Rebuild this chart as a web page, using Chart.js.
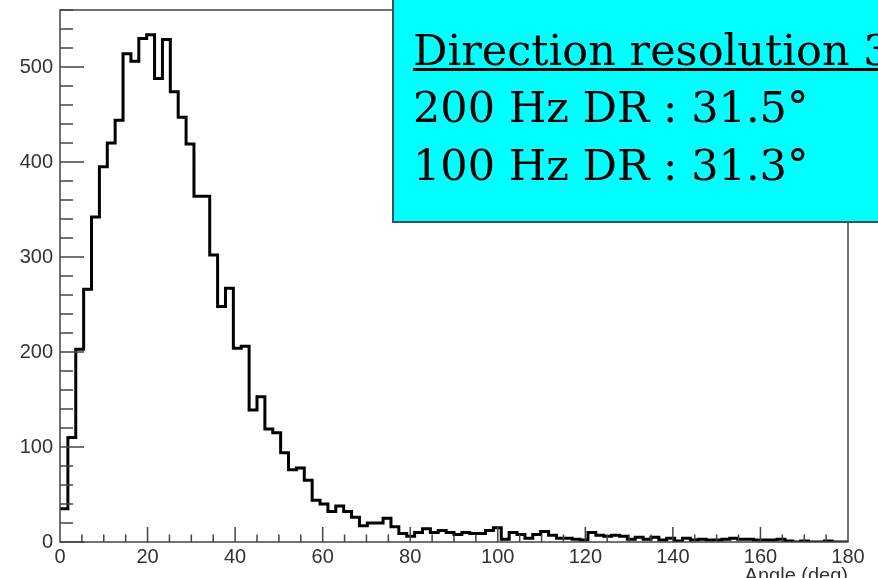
<!DOCTYPE html>
<html lang="en">
<head>
<meta charset="UTF-8">
<title>Direction resolution</title>
<script src="https://cdn.jsdelivr.net/npm/chart.js@4.4.2/dist/chart.umd.min.js"></script>
<style>
    html, body { margin: 0; padding: 0; background: #fff; overflow: hidden; }
    #wrap { width: 878px; height: 578px; overflow: hidden; }
</style>
</head>
<body>
<div id="wrap"><canvas id="histChart" width="878" height="600"></canvas></div>
<script>
// --- Data: angle histogram, 100 bins between 0 and 180 deg ---
const xMin = 0;
const xMax = 180;
const binCounts = [
    35, 110, 203, 266, 342, 395, 420, 444, 514, 506,
    530, 534, 488, 529, 474, 447, 419, 364, 364, 302,
    248, 267, 204, 206, 139, 153, 119, 115, 94, 76,
    78, 65, 44, 40, 32, 38, 32, 26, 17, 20,
    20, 25, 16, 9, 6, 10, 14, 10, 12, 10,
    8, 10, 9, 9, 12, 15, 3, 10, 8, 4,
    8, 11, 7, 4, 4, 3, 2, 10, 7, 6,
    7, 6, 3, 5, 3, 5, 2, 4, 1, 4,
    2, 3, 2, 2, 3, 4, 3, 3, 2, 2,
    2, 3, 1, 0, 1, 0, 0, 1, 0, 0
];
const xTickValues = [0, 20, 40, 60, 80, 100, 120, 140, 160, 180];
const yTickValues = [0, 100, 200, 300, 400, 500];
const yMax = 560;
const xTitle = 'Angle (deg)';
const boxLines = ['Direction resolution 3', '200 Hz DR : 31.5°', '100 Hz DR : 31.3°'];

// outline points: left and right edge of each bin
const binWidth = (xMax - xMin) / binCounts.length;
const outline = [];
binCounts.forEach((c, i) => {
    outline.push({ x: xMin + i * binWidth, y: c });
    outline.push({ x: xMin + (i + 1) * binWidth, y: c });
});

const frameColor = '#444';
const labelFont = { family: '"Liberation Sans", Arial', size: 20 };

// frame + inward ticks, ROOT style
const framePlugin = {
    id: 'frame',
    afterDatasetsDraw(chart) {
        const { ctx, chartArea: a, scales: { x, y } } = chart;
        ctx.save();
        ctx.strokeStyle = frameColor;
        ctx.lineWidth = 1.5;
        ctx.strokeRect(a.left, a.top, a.right - a.left, a.bottom - a.top);
        ctx.beginPath();
        for (let v = 0; v <= yMax; v += 20) {
            const py = y.getPixelForValue(v);
            const len = v % 100 === 0 ? 24 : 13;
            ctx.moveTo(a.left, py);
            ctx.lineTo(a.left + len, py);
        }
        for (let v = xMin + 5; v < xMax; v += 5) {
            const px = x.getPixelForValue(v);
            const len = v % 20 === 0 ? 15 : 7.5;
            ctx.moveTo(px, a.bottom);
            ctx.lineTo(px, a.bottom - len);
        }
        ctx.stroke();
        ctx.restore();
    }
};

// cyan text box in the top right corner
const boxPlugin = {
    id: 'textBox',
    afterDraw(chart) {
        const ctx = chart.ctx;
        ctx.save();
        ctx.fillStyle = '#00ffff';
        ctx.fillRect(393, -5, 500, 227);
        ctx.strokeStyle = '#3d4f5c';
        ctx.lineWidth = 2;
        ctx.strokeRect(393, -5, 500, 227);
        ctx.fillStyle = '#000';
        ctx.font = '43px "DejaVu Serif"';
        ctx.textBaseline = 'alphabetic';
        ctx.textAlign = 'left';
        const baselines = [65, 122, 180];
        boxLines.forEach((t, i) => ctx.fillText(t, 413, baselines[i]));
        ctx.fillRect(413, 68, 470, 3);   // underline of the title line
        ctx.restore();
    }
};

new Chart(document.getElementById('histChart'), {
    type: 'line',
    data: {
        datasets: [{
            data: outline,
            borderColor: '#000',
            borderWidth: 3,
            pointRadius: 0,
            fill: false,
            tension: 0,
            borderJoinStyle: 'miter'
        }]
    },
    options: {
        responsive: false,
        animation: false,
        layout: { padding: { left: 0, right: 30, top: 10, bottom: 0 } },
        plugins: { legend: { display: false }, tooltip: { enabled: false } },
        scales: {
            x: {
                type: 'linear',
                min: xMin,
                max: xMax,
                afterBuildTicks: s => { s.ticks = xTickValues.map(v => ({ value: v })); },
                afterFit: s => { s.height = 58; s.paddingLeft = 0; s.paddingRight = 0; },
                grid: { display: false, drawTicks: false },
                border: { display: false },
                ticks: { padding: 3, maxRotation: 0, color: '#333', font: labelFont },
                title: {
                    display: true,
                    text: xTitle,
                    align: 'end',
                    color: '#333',
                    padding: { top: 0, bottom: 12 },
                    font: { family: '"Liberation Sans", Arial', size: 20, lineHeight: 1.2 }
                }
            },
            y: {
                min: 0,
                max: yMax,
                afterBuildTicks: s => { s.ticks = yTickValues.map(v => ({ value: v })); },
                afterFit: s => { s.width = 60; s.paddingTop = 0; s.paddingBottom = 0; },
                grid: { display: false, drawTicks: false },
                border: { display: false },
                ticks: { padding: 7, color: '#333', font: labelFont }
            }
        }
    },
    plugins: [framePlugin, boxPlugin]
});
</script>
</body>
</html>
